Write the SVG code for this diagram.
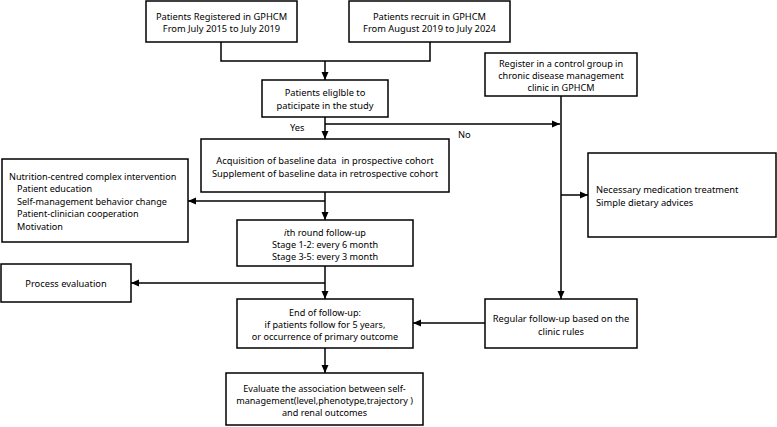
<svg xmlns="http://www.w3.org/2000/svg" width="777" height="427" viewBox="0 0 777 427">
<style>
.b{fill:#fff;stroke:#000;stroke-width:1.5}
.t{font-family:"Noto Sans","Open Sans",sans-serif;font-size:9.3px;fill:#000}
.s{font-size:9.1px}
.c{text-anchor:middle}
.l{fill:none;stroke:#000;stroke-width:1.5}
</style>
<defs>
<marker id="a" markerWidth="8" markerHeight="8" refX="8" refY="4" orient="auto" markerUnits="userSpaceOnUse">
<path d="M0,0.5 L8,4 L0,7.5 Z" fill="#000"/>
</marker>
</defs>
<rect width="777" height="427" fill="#fff"/>
<g id="connectors">
<path class="l" d="M221,42 V61 H430 V42"/>
<path class="l" d="M325,61 V80" marker-end="url(#a)"/>
<path class="l" d="M325,117 V139" marker-end="url(#a)"/>
<path class="l" d="M325,124 H560" marker-end="url(#a)"/>
<path class="l" d="M561,96 V299" marker-end="url(#a)"/>
<path class="l" d="M561,195 H588" marker-end="url(#a)"/>
<path class="l" d="M325,192 V220" marker-end="url(#a)"/>
<path class="l" d="M325,201 H188" marker-end="url(#a)"/>
<path class="l" d="M325,266 V299" marker-end="url(#a)"/>
<path class="l" d="M325,283 H131" marker-end="url(#a)"/>
<path class="l" d="M485,323 H413" marker-end="url(#a)"/>
<path class="l" d="M325,348 V373" marker-end="url(#a)"/>
<text class="t" x="290" y="131">Yes</text>
<text class="t" x="458" y="138">No</text>
</g>
<g id="n1"><rect class="b" x="146" y="1" width="151" height="41"/>
<text class="t c" x="221.5" y="19.5">Patients Registered in GPHCM</text>
<text class="t c" x="221.5" y="32">From July 2015 to July 2019</text></g>
<g id="n2"><rect class="b" x="349" y="1" width="161" height="41"/>
<text class="t c" x="429.5" y="19.5">Patients recruit in GPHCM</text>
<text class="t c" x="429.5" y="32">From August 2019 to July 2024</text></g>
<g id="n3"><rect class="b" x="262" y="80" width="126" height="37"/>
<text class="t c" x="325" y="96">Patients eliglble to</text>
<text class="t c" x="325" y="108.5">paticipate in the study</text></g>
<g id="n4"><rect class="b" x="485" y="53" width="152" height="43"/>
<text class="t c s" x="561" y="66.5">Register in a control group in</text>
<text class="t c s" x="561" y="78.5">chronic disease management</text>
<text class="t c s" x="561" y="90.5">clinic in GPHCM</text></g>
<g id="n5"><rect class="b" x="201" y="139" width="248" height="53"/>
<text class="t c" x="325" y="164" xml:space="preserve">Acquisition of baseline data  in prospective cohort</text>
<text class="t c" x="325" y="176.5">Supplement of baseline data in retrospective cohort</text></g>
<g id="n6"><rect class="b" x="2" y="159" width="186" height="83"/>
<text class="t s" x="9" y="180">Nutrition-centred complex intervention</text>
<text class="t s" x="17" y="192.4">Patient education</text>
<text class="t s" x="17" y="204.8">Self-management behavior change</text>
<text class="t s" x="17" y="217.2">Patient-clinician cooperation</text>
<text class="t s" x="17" y="229.6">Motivation</text></g>
<g id="n7"><rect class="b" x="588" y="153" width="188" height="84"/>
<text class="t" x="596" y="193">Necessary medication treatment</text>
<text class="t" x="596" y="205.5">Simple dietary advices</text></g>
<g id="n8"><rect class="b" x="237" y="220" width="176" height="46"/>
<text class="t c s" x="325" y="235.5"><tspan font-style="italic">i</tspan>th round follow-up</text>
<text class="t c s" x="325" y="247.5">Stage 1-2: every 6 month</text>
<text class="t c s" x="325" y="259.5">Stage 3-5: every 3 month</text></g>
<g id="n9"><rect class="b" x="1" y="264" width="130" height="38"/>
<text class="t c" x="66" y="287">Process evaluation</text></g>
<g id="n10"><rect class="b" x="237" y="299" width="176" height="49"/>
<text class="t c s" x="325" y="315.5">End of follow-up:</text>
<text class="t c s" x="325" y="327.5">if patients follow for 5 years,</text>
<text class="t c s" x="325" y="339.5">or occurrence of primary outcome</text></g>
<g id="n11"><rect class="b" x="485" y="299" width="152" height="49"/>
<text class="t c" x="561" y="322">Regular follow-up based on the</text>
<text class="t c" x="561" y="334.5">clinic rules</text></g>
<g id="n12"><rect class="b" x="226" y="373" width="197" height="52"/>
<text class="t c s" x="324.5" y="391.5">Evaluate the association between self-</text>
<text class="t c s" x="324.5" y="403.5">management(level,phenotype,trajectory )</text>
<text class="t c s" x="324.5" y="415.5">and renal outcomes</text></g>
</svg>
